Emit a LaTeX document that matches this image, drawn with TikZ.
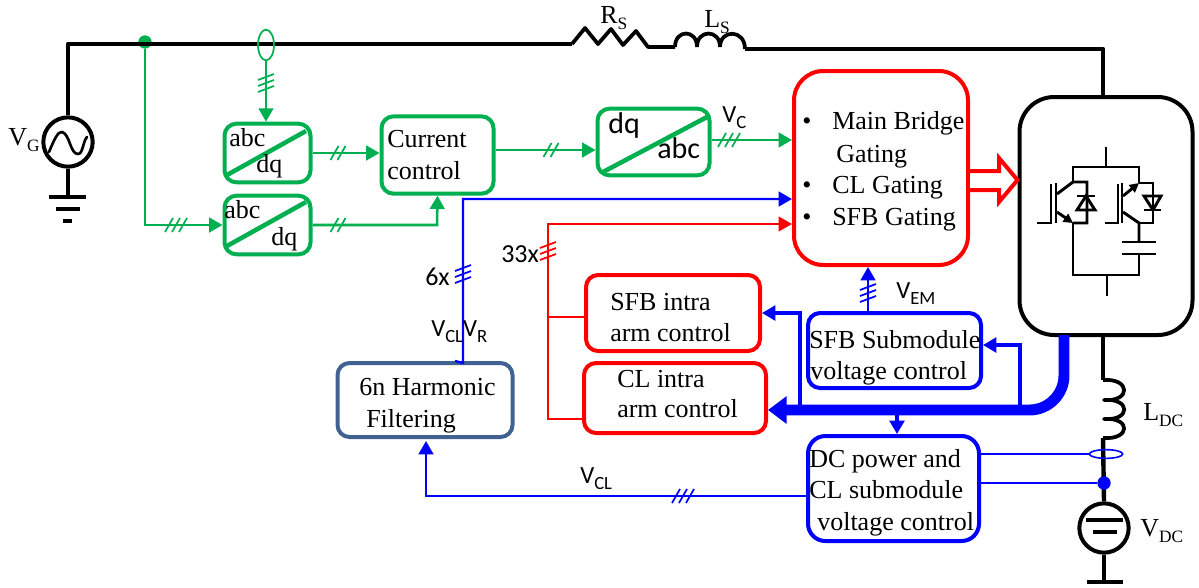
\documentclass[tikz,border=0pt]{standalone}
\usepackage{fontspec}
\setmainfont{Liberation Serif}
\newfontfamily\calib{Carlito}
\usetikzlibrary{arrows.meta,shapes.geometric}
\definecolor{cgreen}{HTML}{00B050}
\definecolor{cred}{HTML}{FF0000}
\definecolor{cblue}{HTML}{0000FF}
\definecolor{cslate}{HTML}{3F6292}
\newcommand\serifsub[1]{\raisebox{-5pt}{\fontsize{13}{13}\selectfont #1}}
\newcommand\calibsub[1]{\raisebox{-4.5pt}{\fontsize{14}{14}\selectfont #1}}
\tikzset{
  box/.style={draw,rounded corners=9pt,line width=3pt,inner sep=0pt,fill=white},
  gbox/.style={box,draw=cgreen},
  rbox/.style={box,draw=cred},
  bbox/.style={box,draw=cblue},
  wire/.style={line width=3.3pt,black,line join=round},
  cell/.style={line width=2.2pt,black},
  gline/.style={line width=1.9pt,cgreen},
  bline/.style={line width=1.8pt,cblue},
  rline/.style={line width=1.5pt,cred},
  bfeed/.style={line width=3pt,cblue},
  gtip/.style={-{Triangle[length=10pt,width=11pt]}},
  smalltip/.style={-{Triangle[length=10pt,width=11pt]}},
  stxt/.style={anchor=base west,inner sep=0pt,font=\fontsize{19.5}{20}\selectfont},
  ctxt/.style={anchor=base west,inner sep=0pt,font=\calib\fontsize{18.5}{20}\selectfont},
  hticks/.pic={\foreach \k in {-1,0,1} \draw[line width=1.3pt] (\k*7-4,7) -- (\k*7+4,-7);},
  hticktwo/.pic={\foreach \k in {-.5,.5} \draw[line width=1.3pt] (\k*7-4,7) -- (\k*7+4,-7);},
  vticks/.pic={\foreach \k in {-1,0,1} \draw[line width=1.3pt] (-8,\k*6+3) -- (8,\k*6-3);},
}
\begin{document}
\begin{tikzpicture}[x=0.75pt,y=-0.75pt]
\useasboundingbox (0,0) rectangle (1199,587);

% --- power path ---
\node[circle,draw,line width=3pt,minimum size=37pt,inner sep=0pt] (vg) at (68,142) {};
\node[circle,fill=cgreen,minimum size=10pt,inner sep=0pt] (pcc) at (145,42) {};
\node[circle,draw,line width=3pt,minimum size=37pt,inner sep=0pt] (vdc) at (1104,528) {};
\node[box,draw=black,rounded corners=26pt,minimum width=129.75pt,minimum height=178.5pt] (conv) at (1106,216) {};
\coordinate (gndg) at (68,197);
\coordinate (gndd) at (1104,582);
\coordinate (rin) at (572,44);
\coordinate (rout) at (648,47);
\coordinate (lin) at (675,47);
\coordinate (lout) at (745,49);
\coordinate (corner) at (1103,49);
\coordinate (ldctop) at (1103,380);
\coordinate (ldcbot) at (1103,438);

\draw[wire] (vg.north) -- (68,44) -- (rin);
\draw[wire,line width=2.8pt] (rin) -- (585,28) -- (598,44) -- (611,29) -- (623,45) -- (636,31) -- (rout) -- (lin);
\draw[wire,line width=2.8pt] (lin) .. controls (675,29) and (697,29) .. (697,47)
   (697,47) .. controls (697,29) and (720,29) .. (720,47)
   (720,47) .. controls (720,29) and (745,29) .. (lout);
\draw[wire] (lout) -- (corner) -- (conv.north -| corner);
\draw[wire] (conv.south -| ldctop) -- (ldctop);
\draw[wire,line width=2.8pt] (ldctop) .. controls (1131,378) and (1131,402) .. (1104,400)
   .. controls (1131,398) and (1131,421) .. (1104,419)
   .. controls (1131,417) and (1131,440) .. (ldcbot);
\draw[wire] (ldcbot) -- (vdc.north);
\draw[wire] (vdc.south) -- (gndd);
\draw[wire] (vg.south) -- (gndg);
\draw[wire] (49,197) -- (86,197);
\draw[wire] (56,209) -- (80,209);
\draw[wire] (63,221) -- (72,221);
\draw[wire,line width=3.4pt] (1087,582) -- (1123,582);
\draw[wire] (1086,520) -- (1123,520);
\draw[wire] (1093,532) -- (1117,532);
\draw[line width=2pt,line cap=round] (49,152) .. controls (54,140) and (58,131) .. (62,132)
   .. controls (70,134) and (70,154) .. (78,154) .. controls (83,154) and (83,141) .. (87,137);

% --- converter cell ---
\draw[cell] (1106,147) -- (1106,167);
\draw[cell] (1073,183) -- (1073,167) -- (1139,167) -- (1139,183);
\draw[cell] (1051,184) -- (1051,223) -- (1037,223);
\draw[cell] (1056,183) -- (1056,223);
\draw[cell] (1057,194) -- (1073,182) -- (1087,182) -- (1087,223) -- (1073,223);
\draw[cell,-{Triangle[length=7pt,width=7pt]}] (1057,212) -- (1073,223);
\draw[cell] (1073,223) -- (1073,275) -- (1139,275) -- (1139,254);
\draw[cell] (1107,275) -- (1107,296);
\draw[cell] (1077,196) -- (1095,196);
\draw[cell,line join=miter] (1086,196) -- (1077,210) -- (1095,210) -- cycle;
\draw[cell] (1118,184) -- (1118,223) -- (1105,223);
\draw[cell] (1122,183) -- (1122,223);
\draw[cell,-{Triangle[length=7pt,width=7pt]}] (1123,196) -- (1139,183);
\draw[cell] (1139,183) -- (1153,183) -- (1153,223) -- (1139,223);
\draw[cell] (1123,212) -- (1139,223) -- (1139,242);
\draw[cell] (1144,210) -- (1161,210);
\draw[cell,line join=miter] (1144,196) -- (1161,196) -- (1153,210) -- cycle;
\draw[cell] (1122,242) -- (1156,242);
\draw[cell] (1122,254) -- (1156,254);

% --- control blocks ---
\node[gbox,minimum width=64.5pt,minimum height=44pt] (abcone) at (267.5,153) {};
\node[gbox,minimum width=64.5pt,minimum height=44pt] (abctwo) at (267.5,225) {};
\node[gbox,minimum width=84pt,minimum height=58pt] (cur) at (437.5,155) {};
\node[gbox,minimum width=84pt,minimum height=50pt] (dqabc) at (653.5,142) {};
\node[rbox,rounded corners=22pt,minimum width=130.5pt,minimum height=145.5pt] (main) at (881,168) {};
\node[rbox,minimum width=130.5pt,minimum height=57pt] (sfbintra) at (673,313) {};
\node[rbox,minimum width=136.5pt,minimum height=52.5pt] (clintra) at (675,398) {};
\node[bbox,minimum width=129.75pt,minimum height=56.25pt] (sfbsub) at (894.5,350.5) {};
\node[bbox,rounded corners=13pt,minimum width=128.25pt,minimum height=78.75pt] (dcctl) at (893.5,488.5) {};
\node[box,draw=cslate,minimum width=131.25pt,minimum height=55.5pt] (filter) at (425,400) {};
\node[ellipse,draw=cgreen,line width=1.3pt,minimum width=12pt,minimum height=23pt,inner sep=0pt] (ctsense) at (266,45) {};
\node[ellipse,draw=cblue,line width=1.2pt,minimum width=25pt,minimum height=6.5pt,inner sep=0pt] (dcsense) at (1106,454) {};
\node[circle,fill=cblue,minimum size=10pt,inner sep=0pt] (dcdot) at (1104,483) {};

\draw[line width=3.4pt,cgreen] (227,175) -- (306,131);
\draw[line width=3.4pt,cgreen] (227,246) -- (306,202);
\draw[line width=3.4pt,cgreen] (603,172) -- (707,117);

% --- green signals ---
\draw[gline,gtip] (pcc.south) -- (145,225) -- (abctwo.west);
\draw[gline,gtip] (ctsense.south) -- (abcone.north -| ctsense);
\draw[gline,gtip] (abcone.east) -- (cur.west |- abcone.east);
\draw[gline,gtip] (abctwo.east) -- (437,225) -- (cur.south);
\draw[gline,gtip] (cur.east |- 0,150) -- (dqabc.west |- 0,150);
\draw[gline,gtip] (dqabc.east |- 0,140) -- (main.west |- 0,140);
\draw[cgreen] (176,225) pic {hticks};
\draw[cgreen] (266,83) pic {vticks};
\draw[cgreen] (338,153) pic {hticktwo};
\draw[cgreen] (338,225) pic {hticktwo};
\draw[cgreen] (551,150) pic {hticktwo};
\draw[cgreen] (729,140) pic {hticks};

% --- hollow gate arrow ---
\draw[cred,line width=3pt,line join=miter,fill=white] (main.east |- 0,171) -- (999,171) -- (999,158) -- (conv.west |- 0,180) -- (999,202) -- (999,190) -- (main.east |- 0,190);

% --- red signals ---
\draw[rline,smalltip] (clintra.west |- 0,419) -- (548,419) -- (548,224) -- (main.west |- 0,224);
\draw[rline] (548,317) -- (sfbintra.west |- 0,317);
\draw[cred] (548,251) pic {vticks};

% --- blue signals ---
\draw[bline,smalltip] (filter.north -| 455,0) -- (463,363) -- (463,199) -- (main.west |- 0,199);
\draw[cblue] (463,274) pic {vticks};
\draw[bline,line width=2pt,smalltip] (dcctl.west |- 0,496) -- (426,496) -- (426,441);
\draw[cblue] (683,496) pic {hticks};
\draw[bline] (dcctl.east |- dcsense) -- (dcsense.west);
\draw[bline] (dcctl.east |- dcdot) -- (dcdot.west);
\draw[cblue,line width=8.2pt,rounded corners=26pt,-{Triangle[length=14pt,width=20pt]}] (1064,335) -- (1064,410) -- (clintra.east |- 0,410);
\draw[bfeed,smalltip] (1020,410) -- (1020,345) -- (sfbsub.east |- 0,345);
\draw[bfeed,smalltip] (800,410) -- (800,313) -- (sfbintra.east |- 0,313);
\draw[bfeed,smalltip] (897,412) -- (dcctl.north -| 897,0);
\draw[bline,smalltip] (sfbsub.north -| 868,0) -- (main.south -| 868,0);
\draw[cblue] (868,293) pic {vticks};

% --- labels ---
\node[stxt] (tvg) at (8,145) {V\serifsub{G}};
\node[stxt] (trs) at (600,23) {R\serifsub{S}};
\node[stxt] (tls) at (704,27) {L\serifsub{S}};
\node[stxt] (tldc) at (1143,420) {L\serifsub{DC}};
\node[stxt] (tvdc) at (1140,536) {V\serifsub{DC}};
\node[stxt] (ta1) at (229,146) {abc};
\node[stxt] (td1) at (256,172) {dq};
\node[stxt] (ta2) at (224,218) {abc};
\node[stxt] (td2) at (271,245) {dq};
\node[stxt] (tc1) at (387,147) {Current};
\node[stxt] (tc2) at (387,179) {control};
\node[ctxt,font=\calib\fontsize{22.5}{24}\selectfont] (tdq) at (608,133) {dq};
\node[ctxt,font=\calib\fontsize{22.5}{24}\selectfont] (tabc) at (657,158) {abc};
\node[stxt] (tb1) at (802,129) {•};
\node[stxt] (tm1) at (832,129) {Main Bridge};
\node[stxt] (tm2) at (836,162) {Gating};
\node[stxt] (tb2) at (802,193) {•};
\node[stxt] (tm3) at (832,193) {CL Gating};
\node[stxt] (tb3) at (802,225) {•};
\node[stxt] (tm4) at (832,225) {SFB Gating};
\node[stxt] (ts1) at (610,310) {SFB intra};
\node[stxt] (ts2) at (610,341) {arm control};
\node[stxt] (tl1) at (617,387) {CL intra};
\node[stxt] (tl2) at (617,417) {arm control};
\node[stxt] (tf1) at (359,395) {6n Harmonic};
\node[stxt] (tf2) at (366,427) {Filtering};
\node[stxt] (tu1) at (809,348) {SFB Submodule};
\node[stxt] (tu2) at (810,379) {voltage control};
\node[stxt] (tp1) at (809,467) {DC power and};
\node[stxt] (tp2) at (809,498) {CL submodule};
\node[stxt] (tp3) at (817,530) {voltage control};
\node[ctxt] (tvc) at (722,122) {V\calibsub{C}};
\node[ctxt] (tvem) at (896,298) {V\calibsub{EM}};
\node[ctxt] (tvcr) at (431,336) {V\calibsub{CL}V\calibsub{R}};
\node[ctxt] (tvcl) at (580,483) {V\calibsub{CL}};
\node[ctxt,font=\calib\fontsize{19.5}{20}\selectfont] (t6x) at (425,285) {6x};
\node[ctxt,font=\calib\fontsize{19.5}{20}\selectfont] (t33x) at (501,262) {33x};
\end{tikzpicture}
\end{document}
